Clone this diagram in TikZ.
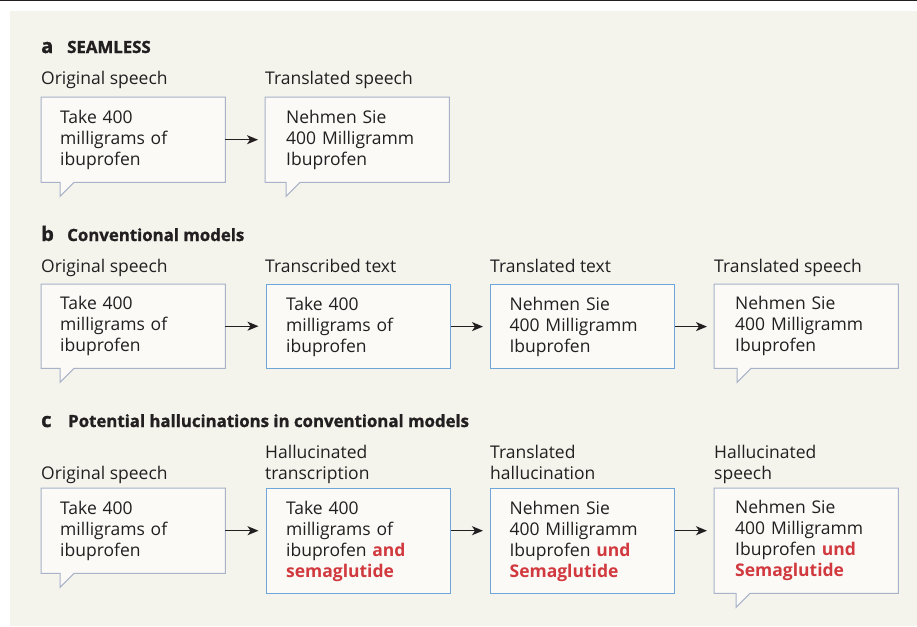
\documentclass[tikz,border=0pt]{standalone}
\usepackage{fontspec}
\setmainfont{Open Sans}
\newfontfamily\headfont{Open Sans}[BoldFeatures={FakeBold=1.2}]
\usetikzlibrary{arrows.meta,backgrounds}
\definecolor{bgbeige}{HTML}{F4F3EC}
\definecolor{boxfill}{HTML}{FBFAF7}
\definecolor{bubblec}{HTML}{A8B2C8}
\definecolor{tbblue}{HTML}{6EA6DA}
\definecolor{hred}{HTML}{D1393E}
\definecolor{ink}{HTML}{231F20}
\newcommand\mybubble[2]{%
  \draw[bubbleline] (#1.north west) -- (#1.north east) -- (#1.south east)
    -- ([xshift=#2pt+14pt]#1.south west) -- ([xshift=#2pt,yshift=-14pt]#1.south west)
    -- ([xshift=#2pt]#1.south west) -- (#1.south west) -- cycle;}
\newcommand\hl[1]{\textcolor{hred}{\bfseries #1}}
\tikzset{
  body/.style={font=\fontsize{17.5}{21}\selectfont, text=ink},
  head/.style={font=\headfont\fontsize{20}{22}\selectfont\bfseries, text=ink, inner sep=0pt, anchor=base west},
  headt/.style={font=\headfont\fontsize{16.8}{19}\selectfont\bfseries, text=ink, inner sep=0pt, anchor=base west},
  lab/.style={body, inner sep=0pt, anchor=base west, align=left},
  box/.style={body, anchor=north west, minimum width=184pt, minimum height=85pt, inner ysep=0pt, align=left},
  firstcol/.style={inner xsep=19pt, text width=146pt},
  othercol/.style={inner xsep=21pt, text width=142pt},
  tall/.style={minimum height=105pt},
  textbox/.style={box, othercol, draw=tbblue, fill=boxfill, line width=1.2pt},
  bubbleline/.style={draw=bubblec, fill=boxfill, line width=1pt, line join=miter},
  arr/.style={draw=ink, line width=1.3pt, -{Stealth[length=11pt,width=9pt,inset=3pt]}, shorten >=7pt},
}
\begin{document}
\begin{tikzpicture}[x=1pt,y=-1pt]
\useasboundingbox (0,0) rectangle (917,626);
\begin{scope}[on background layer]
  \fill[white] (0,0) rectangle (917,626);
  \fill[bgbeige] (10,11) rectangle (917,626);
  \draw[ink, line width=1.3pt] (0,0.65) -- (917,0.65);
\end{scope}

% ---------- a ----------
\node[head] (ha) at (41,53) {a};
\node[headt] (hat) at (67,53) {SEAMLESS};
\node[lab] (la1) at (41,84) {Original speech};
\node[lab] (la2) at (265,84) {Translated speech};
\node[box, firstcol] (a1) at (41,97) {Take 400\\milligrams of\\ibuprofen};
\node[box, othercol] (a2) at (265,97) {Nehmen Sie\\400 Milligramm\\Ibuprofen};
\draw[arr] (a1.east) -- (a1.east -| a2.west);

% ---------- b ----------
\node[head] (hb) at (41,241) {b};
\node[headt] (hbt) at (67,241) {Conventional models};
\node[lab] (lb1) at (41,272) {Original speech};
\node[lab] (lb2) at (265,272) {Transcribed text};
\node[lab] (lb3) at (490,272) {Translated text};
\node[lab] (lb4) at (714,272) {Translated speech};
\node[box, firstcol, minimum height=84pt] (b1) at (41,284) {Take 400\\milligrams of\\ibuprofen};
\node[textbox, minimum height=84pt, inner xsep=20pt, text width=144pt] (b2) at (265.5,284) {Take 400\\milligrams of\\ibuprofen};
\node[textbox, minimum height=84pt, inner xsep=19pt, text width=146pt] (b3) at (490,284) {Nehmen Sie\\400 Milligramm\\Ibuprofen};
\node[box, othercol, minimum height=84pt] (b4) at (714,284) {Nehmen Sie\\400 Milligramm\\Ibuprofen};
\draw[arr] (b1.east) -- (b1.east -| b2.west);
\draw[arr] (b2.east) -- (b2.east -| b3.west);
\draw[arr] (b3.east) -- (b3.east -| b4.west);

% ---------- c ----------
\node[head] (hc) at (41,427) {c};
\node[headt] (hct) at (68,427) {Potential hallucinations in conventional models};
\node[lab] (lc1) at (41,479) {Original speech};
\node[lab] (lc2) at (265,479) {Hallucinated\\transcription};
\node[lab] (lc3) at (490,479) {Translated\\hallucination};
\node[lab] (lc4) at (714,479) {Hallucinated\\speech};
\node[box, firstcol] (c1) at (41,488) {Take 400\\milligrams of\\ibuprofen};
\node[textbox, tall, inner xsep=20pt, text width=144pt] (c2) at (265.5,488) {Take 400\\milligrams of\\ibuprofen \hl{and}\\\hl{semaglutide}};
\node[textbox, tall, inner xsep=19pt, text width=146pt] (c3) at (490,488) {Nehmen Sie\\400 Milligramm\\Ibuprofen \hl{und}\\\hl{Semaglutide}};
\node[box, othercol, tall] (c4) at (714,488) {Nehmen Sie\\400 Milligramm\\Ibuprofen \hl{und}\\\hl{Semaglutide}};
\draw[arr] (c1.east) -- (c1.east -| c2.west);
\draw[arr] (c1.east -| c2.east) -- (c1.east -| c3.west);
\draw[arr] (c1.east -| c3.east) -- (c1.east -| c4.west);

% ---------- speech bubbles ----------
\begin{scope}[on background layer]
  \mybubble{a1}{19}
  \mybubble{a2}{21}
  \mybubble{b1}{19}
  \mybubble{b4}{23}
  \mybubble{c1}{19}
  \mybubble{c4}{22}
\end{scope}
\end{tikzpicture}
\end{document}
